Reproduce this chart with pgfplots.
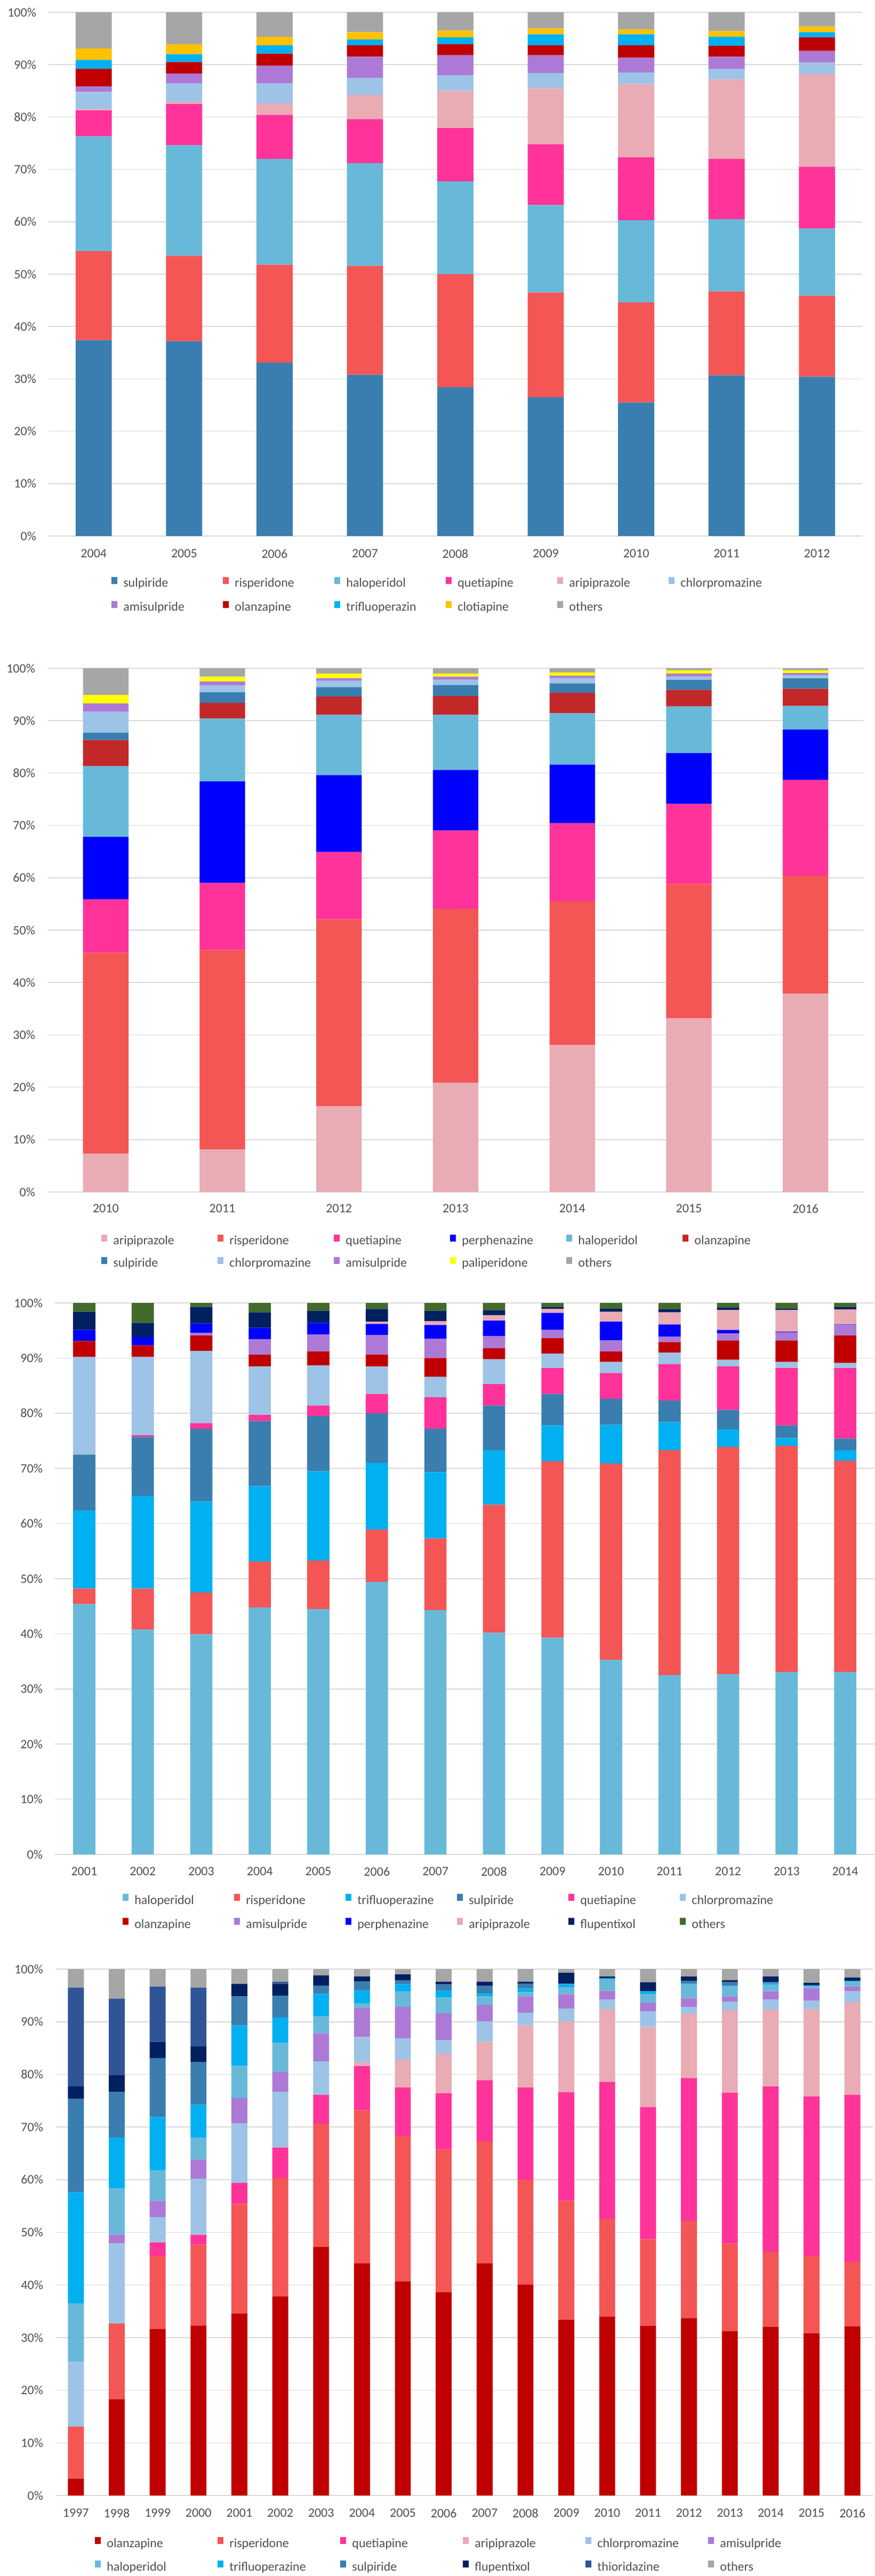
\documentclass[border=0pt]{standalone}
\usepackage{pgfplots}
\usepackage{pgfplotstable}
\pgfplotsset{compat=1.18}
\usepackage{fontspec}
\setmainfont{Carlito}
\definecolor{txt}{HTML}{505050}
\definecolor{gridc}{HTML}{D9D9D9}
\definecolor{cSulp}{HTML}{3A7EB0}
\definecolor{cRisp}{HTML}{F35655}
\definecolor{cHalo}{HTML}{68B9D9}
\definecolor{cQuet}{HTML}{FF3399}
\definecolor{cArip}{HTML}{E9ABB4}
\definecolor{cChlor}{HTML}{9DC3E6}
\definecolor{cAmis}{HTML}{AC7AD6}
\definecolor{cOlan}{HTML}{C00000}
\definecolor{cOlanB}{HTML}{C22828}
\definecolor{cTrif}{HTML}{00B0F0}
\definecolor{cClot}{HTML}{FFC000}
\definecolor{cOth}{HTML}{A6A6A6}
\definecolor{cPerph}{HTML}{0000FF}
\definecolor{cPali}{HTML}{FFFF00}
\definecolor{cFlup}{HTML}{002060}
\definecolor{cOthG}{HTML}{426A2B}
\definecolor{cThio}{HTML}{2F5597}

\pgfplotstableread{
x sulp risp halo quet arip chlor amis olan trif clot oth
0 37.4 17.0 21.9 5.0 0.2 3.3 1.0 3.4 1.7 2.2 6.9
1 37.2 16.3 21.1 7.9 0.4 3.5 1.9 2.2 1.5 1.9 6.1
2 33.1 18.7 20.2 8.4 2.2 3.8 3.4 2.3 1.6 1.6 4.7
3 30.8 20.8 19.6 8.4 4.6 3.3 4.0 2.2 1.1 1.4 3.8
4 28.4 21.6 17.7 10.2 7.1 3.0 3.8 2.1 1.3 1.3 3.5
5 26.5 20.0 16.7 11.6 10.7 2.9 3.4 1.9 2.1 1.1 3.1
6 25.5 19.1 15.7 12.0 14.0 2.2 2.8 2.4 2.1 0.9 3.3
7 30.7 16.0 13.8 11.5 15.2 2.0 2.3 2.1 1.7 1.1 3.6
8 30.4 15.5 12.8 11.8 17.7 2.2 2.2 2.6 1.0 1.1 2.7
}\tabA

\pgfplotstableread{
x arip risp quet perph halo olan sulp chlor amis pali oth
0 7.3 38.4 10.2 11.9 13.5 5.0 1.4 4.0 1.6 1.6 5.1
1 8.1 38.1 12.8 19.4 12.0 3.0 2.0 1.3 0.8 0.9 1.6
2 16.4 35.7 12.8 14.7 11.5 3.5 1.8 1.2 0.5 0.9 1.0
3 20.9 33.2 14.9 11.6 10.5 3.6 2.1 1.0 0.6 0.6 1.0
4 28.1 27.5 14.8 11.2 9.8 3.9 1.8 1.0 0.5 0.6 0.8
5 33.2 25.6 15.3 9.7 8.9 3.2 1.9 0.6 0.6 0.6 0.4
6 37.9 22.5 18.3 9.6 4.5 3.3 2.0 0.6 0.4 0.5 0.4
}\tabB

\pgfplotstableread{
x halo risp trif sulp quet chlor olan amis perph arip flup oth
0 45.4 2.8 14.2 10.1 0.0 17.7 2.9 0.0 2.0 0.0 3.3 1.6
1 40.8 7.4 16.8 10.7 0.3 14.2 2.1 0.0 1.5 0.0 2.6 3.6
2 39.9 7.6 16.5 13.2 1.0 13.1 2.8 0.5 1.7 0.0 3.0 0.7
3 44.8 8.3 13.7 11.8 1.1 8.8 2.1 2.8 2.1 0.0 2.8 1.7
4 44.5 8.8 16.2 10.0 1.9 7.3 2.5 3.1 2.1 0.0 2.2 1.4
5 49.4 9.5 12.1 9.0 3.5 5.0 2.1 3.6 2.0 0.4 2.3 1.1
6 44.3 13.0 12.0 7.9 5.7 3.7 3.4 3.5 2.5 0.7 1.9 1.4
7 40.2 23.2 9.9 8.1 3.9 4.5 2.0 2.2 2.8 1.0 0.9 1.3
8 39.3 32.0 6.5 5.7 4.7 2.6 2.8 1.5 3.1 0.7 0.4 0.7
9 35.3 35.6 7.0 4.7 4.7 2.0 1.9 2.0 3.4 1.8 0.6 1.0
10 32.5 40.8 5.1 3.9 6.6 2.1 1.9 1.0 2.2 2.2 0.6 1.1
11 32.7 41.2 3.2 3.5 7.9 1.2 3.5 1.3 0.6 3.6 0.5 0.8
12 33.1 41.0 1.4 2.3 10.4 1.1 3.9 1.5 0.1 3.9 0.3 1.0
13 33.1 38.3 1.9 2.1 12.8 0.9 5.0 1.9 0.1 2.7 0.5 0.8
}\tabC

\pgfplotstableread{
x olan risp quet arip chlor amis halo trif sulp flup thio oth
0 3.2 9.9 0 0 12.3 0 11.1 21.1 17.8 2.3 18.8 3.5
1 18.3 14.4 0 0 15.2 1.7 8.7 9.7 8.7 3.2 14.5 5.6
2 31.6 13.9 2.6 0 4.8 3.1 5.8 10.1 11.2 3.1 10.5 3.3
3 32.3 15.4 1.8 0 10.7 3.6 4.2 6.2 8.1 3.0 11.2 3.5
4 34.6 20.8 4.0 0 11.3 4.8 6.1 7.7 5.5 2.4 0 2.8
5 37.8 22.5 5.8 0 10.6 3.8 5.5 4.8 4.1 2.3 0.4 2.4
6 47.2 23.4 5.5 0 6.4 5.3 3.3 4.2 1.5 2.0 0 1.2
7 44.1 29.1 8.4 0.7 4.8 5.5 0.9 2.4 1.7 1.0 0 1.4
8 40.7 27.6 9.2 5.3 4.0 6.0 2.9 1.4 0.8 1.1 0 1.0
9 38.6 27.1 10.7 7.5 2.6 5.1 3.0 1.3 1.2 0.5 0 2.4
10 44.1 23.2 11.6 7.3 3.9 3.1 1.6 0.5 1.5 0.8 0 2.4
11 40.1 19.9 17.5 11.8 2.4 3.1 0.8 0.7 0.9 0.4 0 2.4
12 33.4 22.6 20.6 13.5 2.4 2.7 1.3 0.6 0.1 2.1 0 0.7
13 34.0 18.5 26.1 13.8 1.8 1.7 2.2 0.2 0.0 0.3 0 1.4
14 32.2 16.5 25.1 15.2 3.0 1.6 1.6 0.6 0 1.7 0 2.5
15 33.7 18.5 27.1 12.2 1.3 1.7 2.6 0.1 0.6 0.8 0 1.4
16 31.2 16.7 28.6 15.6 1.7 1.0 1.9 0.1 0.7 0.4 0 2.1
17 32.0 14.3 31.4 14.6 1.9 1.6 1.2 0.3 0.2 1.1 0 1.4
18 30.8 14.7 30.3 16.6 1.6 2.4 0.3 0.2 0 0.5 0 2.6
19 32.1 12.3 31.7 17.6 2.1 0.9 1.0 0.1 0 0.6 0 1.6
}\tabD

\newcommand{\fnt}{\fontsize{12}{14}\selectfont}
\newlength{\LW}
\newcommand{\LE}[1]{\addlegendentry{\makebox[\LW][l]{#1}}}

\pgfplotsset{
  bl/.style={fill=#1, draw=none, legend image code/.code={\fill[fill=#1] (0pt,0pt) rectangle (5.5pt,6.5pt);}},
  panel/.style={
    scale only axis, ybar stacked, ymin=0, ymax=100, enlargelimits=false,
    ytick={0,10,...,100},
    yticklabels={0\%,10\%,20\%,30\%,40\%,50\%,60\%,70\%,80\%,90\%,100\%},
    ymajorgrids, major grid style={draw=gridc, line width=0.75pt},
    axis x line*=bottom, axis y line*=left,
    x axis line style={draw=gridc, line width=0.75pt},
    y axis line style={draw=none},
    major tick length=0pt, tick style={draw=none},
    tick label style={font=\fnt, text=txt},
    yticklabel style={anchor=east, xshift=-8pt},
    legend columns=6,
    legend style={draw=none, fill=none, anchor=west, inner sep=0pt,
      column sep=0pt, font=\fnt, text=txt,
      nodes={inner xsep=5.5pt, inner ysep=0pt, text height=8.5pt, text depth=2.5pt}},
  }
}

\begin{document}
\begin{tikzpicture}
\fill[white] (0pt,0pt) rectangle (820.5pt,-2415pt);
\path[use as bounding box] (0pt,0pt) rectangle (820.5pt,-2415pt);

% ---------- Panel 1 ----------
\setlength{\LW}{88pt}
\begin{axis}[panel, at={(45.5pt,-11.5pt)}, anchor=north west,
  width=763pt, height=491pt, bar width=0.4,
  xmin=-0.5, xmax=8.5, xtick={0,...,8},
  xticklabels={2004,2005,2006,2007,2008,2009,2010,2011,2012},
  xticklabel style={anchor=center, yshift=-16.5pt},
  legend style={at={(0.0773,-0.1135)}, row sep=10.5pt}]
\addplot[bl=cSulp] table[x=x,y=sulp]{\tabA}; \LE{sulpiride}
\addplot[bl=cRisp] table[x=x,y=risp]{\tabA}; \LE{risperidone}
\addplot[bl=cHalo] table[x=x,y=halo]{\tabA}; \LE{haloperidol}
\addplot[bl=cQuet] table[x=x,y=quet]{\tabA}; \LE{quetiapine}
\addplot[bl=cArip] table[x=x,y=arip]{\tabA}; \LE{aripiprazole}
\addplot[bl=cChlor] table[x=x,y=chlor]{\tabA}; \LE{chlorpromazine}
\addplot[bl=cAmis] table[x=x,y=amis]{\tabA}; \LE{amisulpride}
\addplot[bl=cOlan] table[x=x,y=olan]{\tabA}; \LE{olanzapine}
\addplot[bl=cTrif] table[x=x,y=trif]{\tabA}; \LE{trifluoperazin}
\addplot[bl=cClot] table[x=x,y=clot]{\tabA}; \LE{clotiapine}
\addplot[bl=cOth] table[x=x,y=oth]{\tabA}; \LE{others}
\end{axis}

% ---------- Panel 2 ----------
\setlength{\LW}{92.5pt}
\begin{axis}[panel, at={(44.5pt,-626.5pt)}, anchor=north west,
  width=765.5pt, height=491pt, bar width=0.39,
  xmin=-0.5, xmax=6.5, xtick={0,...,6},
  xticklabels={2010,2011,2012,2013,2014,2015,2016},
  xticklabel style={anchor=center, yshift=-15.5pt},
  legend style={at={(0.066,-0.115)}, row sep=9pt}]
\addplot[bl=cArip] table[x=x,y=arip]{\tabB}; \LE{aripiprazole}
\addplot[bl=cRisp] table[x=x,y=risp]{\tabB}; \LE{risperidone}
\addplot[bl=cQuet] table[x=x,y=quet]{\tabB}; \LE{quetiapine}
\addplot[bl=cPerph] table[x=x,y=perph]{\tabB}; \LE{perphenazine}
\addplot[bl=cHalo] table[x=x,y=halo]{\tabB}; \LE{haloperidol}
\addplot[bl=cOlanB] table[x=x,y=olan]{\tabB}; \LE{olanzapine}
\addplot[bl=cSulp] table[x=x,y=sulp]{\tabB}; \LE{sulpiride}
\addplot[bl=cChlor] table[x=x,y=chlor]{\tabB}; \LE{chlorpromazine}
\addplot[bl=cAmis] table[x=x,y=amis]{\tabB}; \LE{amisulpride}
\addplot[bl=cPali] table[x=x,y=pali]{\tabB}; \LE{paliperidone}
\addplot[bl=cOth] table[x=x,y=oth]{\tabB}; \LE{others}
\end{axis}

% ---------- Panel 3 ----------
\setlength{\LW}{88pt}
\begin{axis}[panel, at={(51.5pt,-1221.5pt)}, anchor=north west,
  width=768.5pt, height=517pt, bar width=0.38,
  xmin=-0.5, xmax=13.5, xtick={0,...,13},
  xticklabels={2001,2002,2003,2004,2005,2006,2007,2008,2009,2010,2011,2012,2013,2014},
  xticklabel style={anchor=center, yshift=-16pt},
  legend style={at={(0.0826,-0.1049)}, row sep=10.5pt}]
\addplot[bl=cHalo] table[x=x,y=halo]{\tabC}; \LE{haloperidol}
\addplot[bl=cRisp] table[x=x,y=risp]{\tabC}; \LE{risperidone}
\addplot[bl=cTrif] table[x=x,y=trif]{\tabC}; \LE{trifluoperazine}
\addplot[bl=cSulp] table[x=x,y=sulp]{\tabC}; \LE{sulpiride}
\addplot[bl=cQuet] table[x=x,y=quet]{\tabC}; \LE{quetiapine}
\addplot[bl=cChlor] table[x=x,y=chlor]{\tabC}; \LE{chlorpromazine}
\addplot[bl=cOlan] table[x=x,y=olan]{\tabC}; \LE{olanzapine}
\addplot[bl=cAmis] table[x=x,y=amis]{\tabC}; \LE{amisulpride}
\addplot[bl=cPerph] table[x=x,y=perph]{\tabC}; \LE{perphenazine}
\addplot[bl=cArip] table[x=x,y=arip]{\tabC}; \LE{aripiprazole}
\addplot[bl=cFlup] table[x=x,y=flup]{\tabC}; \LE{flupentixol}
\addplot[bl=cOthG] table[x=x,y=oth]{\tabC}; \LE{others}
\end{axis}

% ---------- Panel 4 ----------
\setlength{\LW}{98.5pt}
\begin{axis}[panel, at={(52pt,-1846pt)}, anchor=north west,
  width=766.5pt, height=493.5pt, bar width=0.39,
  xmin=-0.5, xmax=19.5, xtick={0,...,19},
  xticklabels={1997,1998,1999,2000,2001,2002,2003,2004,2005,2006,2007,2008,2009,2010,2011,2012,2013,2014,2015,2016},
  xticklabel style={anchor=center, yshift=-16.5pt},
  legend style={at={(0.0483,-0.1135)}, row sep=10pt}]
\addplot[bl=cOlan] table[x=x,y=olan]{\tabD}; \LE{olanzapine}
\addplot[bl=cRisp] table[x=x,y=risp]{\tabD}; \LE{risperidone}
\addplot[bl=cQuet] table[x=x,y=quet]{\tabD}; \LE{quetiapine}
\addplot[bl=cArip] table[x=x,y=arip]{\tabD}; \LE{aripiprazole}
\addplot[bl=cChlor] table[x=x,y=chlor]{\tabD}; \LE{chlorpromazine}
\addplot[bl=cAmis] table[x=x,y=amis]{\tabD}; \LE{amisulpride}
\addplot[bl=cHalo] table[x=x,y=halo]{\tabD}; \LE{haloperidol}
\addplot[bl=cTrif] table[x=x,y=trif]{\tabD}; \LE{trifluoperazine}
\addplot[bl=cSulp] table[x=x,y=sulp]{\tabD}; \LE{sulpiride}
\addplot[bl=cFlup] table[x=x,y=flup]{\tabD}; \LE{flupentixol}
\addplot[bl=cThio] table[x=x,y=thio]{\tabD}; \LE{thioridazine}
\addplot[bl=cOth] table[x=x,y=oth]{\tabD}; \LE{others}
\end{axis}
\end{tikzpicture}
\end{document}
